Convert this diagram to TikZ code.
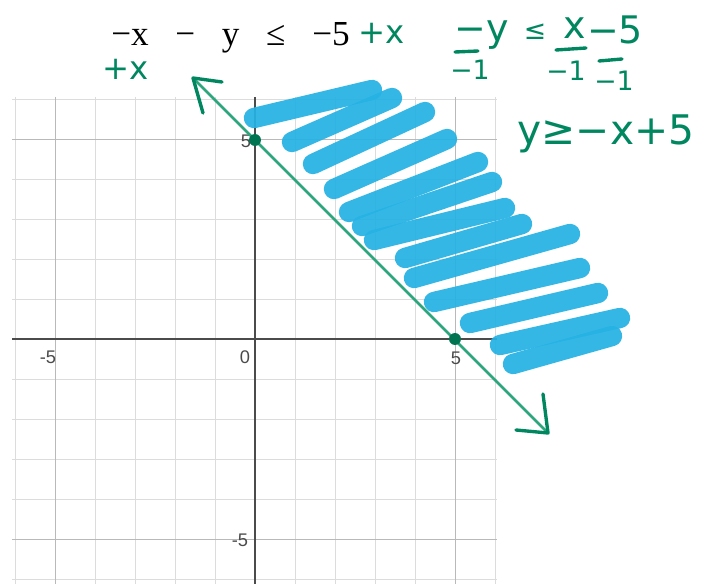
\documentclass[tikz,border=0pt]{standalone}
\usepackage{fontspec}
\setmainfont{Liberation Serif}
\newfontfamily\handfont{DejaVu Sans}
\newfontfamily\labfont{Liberation Sans}
\definecolor{gridc}{RGB}{220,220,220}
\definecolor{gridm}{RGB}{185,185,185}
\definecolor{axisc}{RGB}{75,75,75}
\definecolor{ink}{RGB}{0,135,95}
\definecolor{linec}{RGB}{45,165,125}
\definecolor{blu}{RGB}{38,178,228}
\begin{document}
\begin{tikzpicture}[x=0.025cm,y=-0.025cm,
  hand/.style={text=ink,inner sep=0pt,font=\handfont\fontsize{27}{30}\selectfont},
  handsmall/.style={text=ink,inner sep=0pt,font=\handfont\fontsize{19}{22}\selectfont},
  tick/.style={text=axisc,inner sep=0pt,font=\labfont\fontsize{13}{15}\selectfont},
  eqtext/.style={text=black,inner sep=0pt,font=\fontsize{25}{28}\selectfont},
  shade/.style={draw=blu,line width=14.5pt,line cap=round,opacity=0.93},
  penline/.style={draw=ink,line width=2.4pt,line cap=round,line join=round},
  dotpt/.style={circle,fill=ink!85!black,minimum size=8.5pt,inner sep=0pt},
  gridline/.style={draw=gridc,line width=0.6pt},
  gridmajor/.style={draw=gridm,line width=0.6pt},
  axisline/.style={draw=axisc,line width=1.1pt}]
\useasboundingbox (0,0) rectangle (712,584);
% grid
\foreach \k in {-6,...,6} {
  \draw[gridline] ({255+40*\k},97) -- ({255+40*\k},584);
  \draw[gridline] (12,{339+40*\k}) -- (497,{339+40*\k});
}
\draw[gridmajor] (55,97) -- (55,584);
\draw[gridmajor] (455,97) -- (455,584);
\draw[gridmajor] (12,139) -- (497,139);
\draw[gridmajor] (12,539) -- (497,539);
% axes
\draw[axisline] (12,339) -- (497,339);
\draw[axisline] (255,97) -- (255,584);
% tick labels
\node[tick] (tm5) at (48,357) {-5};
\node[tick] (t0) at (245,357) {0};
\node[tick] (t5) at (456,358) {5};
\node[tick] (ty5) at (246,141) {5};
\node[tick] (tym5) at (240,540) {-5};
% blue shading
\foreach \ax/\ay/\bx/\by in {
  254/118/372/90, 292/142/392/98, 313/164/425/112, 334/189/447/139,
  349/212/478/162, 362/226/492/182, 374/240/505/208, 405/258/522/224,
  414/278/570/234, 434/302/580/268, 470/323/598/293, 500/345/620/318,
  513/364/612/336}
  \draw[shade] (\ax,\ay) -- (\bx,\by);
% solution line
\coordinate (tA) at (193,78);
\coordinate (tB) at (548,433);
\coordinate (bA1) at (222,82);
\coordinate (bA2) at (203,113);
\coordinate (bB1) at (543,394);
\coordinate (bB2) at (516,430);
\draw[draw=linec,line width=2pt] (tA) -- (tB);
\node[dotpt] (p1) at (255,140) {};
\node[dotpt] (p2) at (455,339) {};
\draw[penline] (bA1) -- (tA) -- (bA2);
\draw[penline] (bB1) -- (tB) -- (bB2);
% printed equation
\node[eqtext,anchor=base west] (eq) at (111,46) {−x\hspace{19pt}−\hspace{19pt}y\hspace{19pt}≤\hspace{19pt}−5};
% handwriting
\node[hand,anchor=base west,font=\handfont\fontsize{23}{26}\selectfont] (px1) at (358,44) {+x};
\node[hand,anchor=base west,font=\handfont\fontsize{23}{26}\selectfont] (px2) at (102,80) {+x};
\node[hand] (ny) at (482,35) {−y};
\node[handsmall] (nle) at (535,32) {≤};
\node[hand] (nx) at (575,28) {x};
\node[hand] (n5) at (615,30) {−5};
\draw[penline] (455,52) -- (478,51);
\draw[penline] (556,50) -- (586,48);
\draw[penline] (599,61) -- (622,59);
\node[handsmall] (d1) at (470,70) {−1};
\node[handsmall] (d2) at (566,71) {−1};
\node[handsmall] (d3) at (614,81) {−1};
\node[hand,font=\handfont\fontsize{29}{32}\selectfont] (ans) at (606,134) {y≥−x+5};
\end{tikzpicture}
\end{document}
